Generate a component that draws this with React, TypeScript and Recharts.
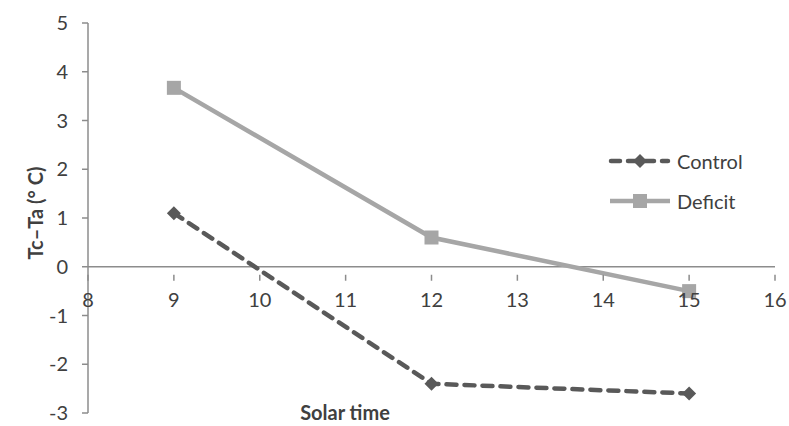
import { LineChart, Line, XAxis, YAxis, ReferenceLine } from "recharts";

const solarTime = [9, 12, 15];
const control = [1.1, -2.4, -2.6];
const deficit = [3.67, 0.6, -0.5];
const xTicks = [8, 9, 10, 11, 12, 13, 14, 15, 16];
const yTicks = [-3, -2, -1, 0, 1, 2, 3, 4, 5];

const data = solarTime.map((t, i) => ({ t, control: control[i], deficit: deficit[i] }));

const W = 789;
const H = 426;
const TOP = 23;
const BOTTOM = 413;
const PLOT_H = BOTTOM - TOP;
const Y_MIN = -3;
const Y_MAX = 5;
const FONT = "Lato, 'Open Sans', sans-serif";
const AXIS = "#8c8c8c";
const TEXT = "#404040";

// x ticks sit on the zero line, not at the bottom of the plot
const XTick = ({ x, y, payload }: any) => {
  const zeroY = y - (PLOT_H * (0 - Y_MIN)) / (Y_MAX - Y_MIN);
  return (
    <g>
      <line x1={x} x2={x} y1={zeroY} y2={zeroY + 6} stroke={AXIS} strokeWidth={1.5} />
      <text x={x} y={zeroY + 32} textAnchor="middle" fontSize={20} fill={TEXT} fontFamily={FONT}>
        {payload.value}
      </text>
    </g>
  );
};

const Diamond = ({ cx, cy, fill, size = 7 }: any) => {
  if (cx == null || cy == null) return null;
  return <polygon points={`${cx},${cy - size} ${cx + size},${cy} ${cx},${cy + size} ${cx - size},${cy}`} fill={fill} />;
};

const Square = ({ cx, cy, fill, size = 7 }: any) => {
  if (cx == null || cy == null) return null;
  return <rect x={cx - size} y={cy - size} width={size * 2} height={size * 2} fill={fill} />;
};

const LegendBox = () => (
  <div style={{ position: "absolute", left: 608, top: 141, fontFamily: FONT, fontSize: 20, color: TEXT }}>
    <div style={{ display: "flex", alignItems: "center", height: 40 }}>
      <svg width={64} height={20}>
        <line x1={3} x2={60} y1={10} y2={10} stroke="#595959" strokeWidth={4.5} strokeDasharray="9 8" strokeLinecap="round" />
        <Diamond cx={32} cy={10} fill="#595959" size={7} />
      </svg>
      <span style={{ marginLeft: 5 }}>Control</span>
    </div>
    <div style={{ display: "flex", alignItems: "center", height: 40 }}>
      <svg width={64} height={20}>
        <line x1={2} x2={62} y1={10} y2={10} stroke="#a6a6a6" strokeWidth={4.5} />
        <Square cx={32} cy={10} fill="#a6a6a6" size={7} />
      </svg>
      <span style={{ marginLeft: 5 }}>Deficit</span>
    </div>
  </div>
);

export default function App() {
  return (
    <div style={{ position: "absolute", left: 0, top: 0, width: W, height: H, background: "#fff" }}>
      <LineChart width={W} height={H} data={data} margin={{ top: TOP, right: 14, bottom: H - BOTTOM - 1, left: 0 }}>
        <XAxis
          dataKey="t"
          type="number"
          domain={[8, 16]}
          ticks={xTicks}
          axisLine={false}
          tickLine={false}
          height={1}
          tick={<XTick />}
          interval={0}
        />
        <YAxis
          type="number"
          domain={[Y_MIN, Y_MAX]}
          ticks={yTicks}
          width={88}
          interval={0}
          axisLine={{ stroke: AXIS, strokeWidth: 1.5 }}
          tickLine={{ stroke: AXIS, strokeWidth: 1.5 }}
          tickSize={6}
          tickMargin={14}
          tick={{ fontSize: 20, fill: TEXT, fontFamily: FONT }}
        />
        <ReferenceLine y={0} stroke={AXIS} strokeWidth={1.5} />
        <Line
          dataKey="control"
          stroke="#595959"
          strokeWidth={4.5}
          strokeDasharray="10 8"
          strokeLinecap="round"
          dot={<Diamond fill="#595959" size={7} />}
          isAnimationActive={false}
        />
        <Line
          dataKey="deficit"
          stroke="#a6a6a6"
          strokeWidth={4.5}
          dot={<Square fill="#a6a6a6" size={7} />}
          isAnimationActive={false}
        />
      </LineChart>
      <LegendBox />
      <div
        style={{
          position: "absolute",
          left: 35,
          top: 213,
          transform: "translate(-50%, -50%) rotate(-90deg)",
          fontFamily: FONT,
          fontWeight: 700,
          fontSize: 20,
          color: TEXT,
          whiteSpace: "nowrap",
        }}
      >
        Tc–Ta (° C)
      </div>
      <div
        style={{
          position: "absolute",
          left: 345,
          top: 412,
          transform: "translate(-50%, -50%)",
          fontFamily: FONT,
          fontWeight: 700,
          fontSize: 20,
          color: TEXT,
          whiteSpace: "nowrap",
        }}
      >
        Solar time
      </div>
    </div>
  );
}
